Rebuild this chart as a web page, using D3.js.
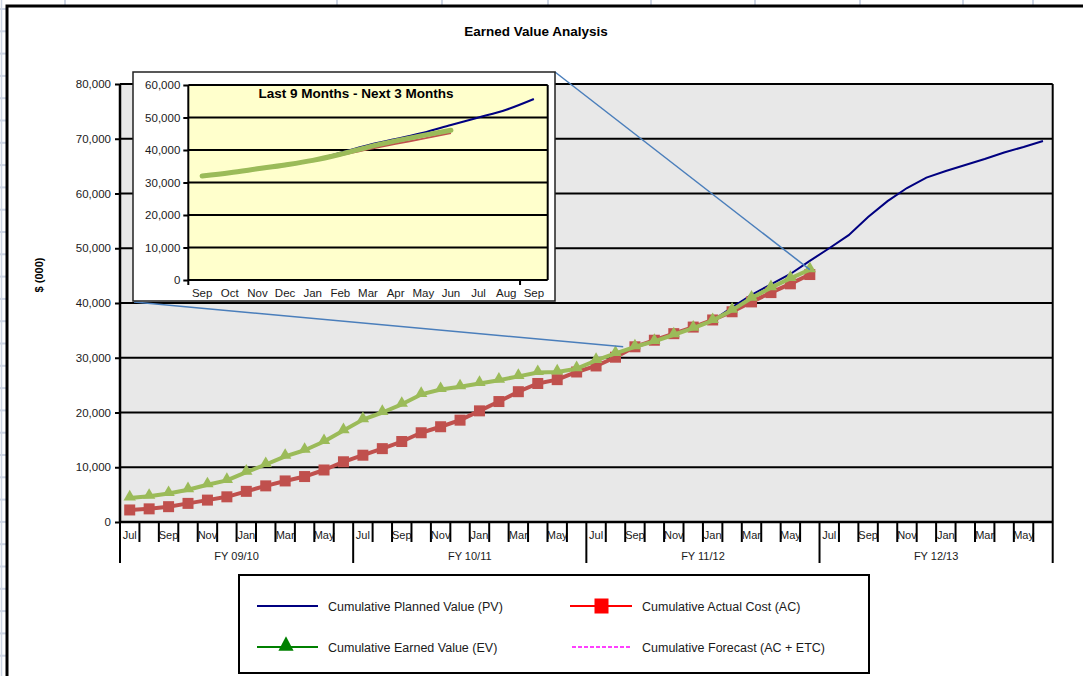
<!DOCTYPE html>
<html><head><meta charset="utf-8">
<script src="https://cdn.jsdelivr.net/npm/d3@7"></script>
<style>body{margin:0;background:#fff}svg{display:block;font-family:Arial,"Liberation Sans",sans-serif}</style>
</head><body><svg id="c" width="1083" height="676"></svg>
<script>
// ---------------- data ----------------
const monthNames = ["Jul","Aug","Sep","Oct","Nov","Dec","Jan","Feb","Mar","Apr","May","Jun"];
const fiscalYears = ["FY 09/10","FY 10/11","FY 11/12","FY 12/13"];
const plannedValue = [4400,4700,5200,5900,6800,7600,9100,10500,12000,13100,14700,16700,
  18700,20000,21500,23300,24200,24700,25300,25900,26600,27300,27400,28000,
  29500,30800,32000,33000,34200,35400,36800,39200,41500,43400,45300,47700,
  50000,52400,55700,58600,61000,62900,64100,65200,66300,67500,68500,69600];
const actualCost = [2200,2400,2800,3400,4000,4600,5600,6600,7500,8300,9500,11000,
  12200,13400,14700,16300,17400,18600,20300,22000,23800,25300,26000,27400,
  28500,30100,32000,33200,34400,35600,36900,38400,40200,41900,43500,45200];
const earnedValue = [4400,4700,5200,5900,6800,7600,9100,10500,12000,13100,14700,16700,
  18700,20000,21500,23300,24200,24700,25300,25900,26600,27300,27400,28000,
  29500,30800,32000,33000,34200,35400,36800,38700,40900,42800,44500,46100];
const insetMonths = ["Sep","Oct","Nov","Dec","Jan","Feb","Mar","Apr","May","Jun","Jul","Aug","Sep"];
const insetStartIndex = 26; // Sep (FY 11/12)
const mainYTicks = [0,10000,20000,30000,40000,50000,60000,70000,80000];
const insetYTicks = [0,10000,20000,30000,40000,50000,60000];
const legendItems = ["Cumulative Planned Value (PV)","Cumulative Actual Cost (AC)","Cumulative Earned Value (EV)","Cumulative Forecast (AC + ETC)"];
const categories = fiscalYears.flatMap(fy => monthNames.map(m => fy + " " + m));

// ---------------- drawing ----------------
const svg = d3.select("#c");
const FONT = 'Arial, "Liberation Sans", sans-serif';
svg.append("rect").attr("width",1083).attr("height",676).attr("fill","#fff");

// spreadsheet grid remnants
const gridCol = "#cdd5e4";
[65,337,442,548,651,755,860,963,1033].forEach(gx => svg.append("line").attr("x1",gx).attr("x2",gx).attr("y1",0).attr("y2",5).attr("stroke",gridCol).attr("stroke-width",2));
for (let gy = 9; gy < 676; gy += 22.3) svg.append("line").attr("x1",0).attr("x2",6).attr("y1",gy).attr("y2",gy).attr("stroke",gridCol).attr("stroke-width",2);
svg.append("line").attr("x1",1.5).attr("x2",1.5).attr("y1",0).attr("y2",676).attr("stroke",gridCol).attr("stroke-width",1.5);
// chart frame
svg.append("path").attr("d","M7,680V6H1090").attr("fill","none").attr("stroke","#000").attr("stroke-width",3);

// title
svg.append("text").attr("x",536).attr("y",36).attr("text-anchor","middle").attr("font-size",13.5).attr("font-weight","bold").attr("fill","#000").text("Earned Value Analysis");

// main scales
const x = d3.scaleBand().domain(d3.range(categories.length)).range([120,1052.7]).padding(0);
const bw = x.bandwidth();
const cx = i => x(i) + bw/2;
const y = d3.scaleLinear().domain([0,80000]).range([522,84]);
const [x0,x1] = x.range();

svg.append("rect").attr("x",x0).attr("y",y(80000)).attr("width",x1-x0).attr("height",y(0)-y(80000)).attr("fill","#e8e8e8");
mainYTicks.filter(v=>v>0).forEach(v => svg.append("line").attr("x1",x0).attr("x2",x1).attr("y1",y(v)).attr("y2",y(v)).attr("stroke","#000").attr("stroke-width",2));
svg.append("line").attr("x1",x1).attr("x2",x1).attr("y1",y(80000)).attr("y2",y(0)).attr("stroke","#000").attr("stroke-width",2);

// y axis
const yAxis = svg.append("g").attr("transform",`translate(${x0},0)`)
  .call(d3.axisLeft(y).tickValues(mainYTicks).tickSize(5).tickPadding(4).tickFormat(d3.format(",")));
yAxis.select(".domain").remove();
yAxis.selectAll("line").attr("stroke","#000").attr("stroke-width",2);
yAxis.selectAll("text").attr("font-size",11.5).attr("font-family",FONT).attr("fill","#1a1a1a");

svg.append("text").attr("transform",`translate(43,275) rotate(-90)`).attr("text-anchor","middle")
  .attr("font-size",11).attr("font-weight","bold").attr("fill","#000").text("$ (000)");

// x axis labels
const xg = svg.append("g");
categories.forEach((c,i) => {
  if (i % 2 === 0) xg.append("text").attr("x",cx(i)).attr("y",539).attr("text-anchor","middle").attr("font-size",11).attr("fill","#1a1a1a").text(monthNames[i%12]);
});
fiscalYears.forEach((fy,g) => {
  const a = x(g*12), b = x(g*12+11)+bw;
  xg.append("text").attr("x",(a+b)/2).attr("y",560).attr("text-anchor","middle").attr("font-size",11).attr("fill","#1a1a1a").text(fy);
});
for (let i = 0; i <= categories.length; i++) {
  const px = i < categories.length ? x(i) : x1;
  const len = i % 12 === 0 ? 41 : 20;
  xg.append("line").attr("x1",px).attr("x2",px).attr("y1",y(0)).attr("y2",y(0)+len).attr("stroke","#000").attr("stroke-width",2);
}
svg.append("line").attr("x1",x0).attr("x2",x0).attr("y1",y(80000)).attr("y2",y(0)).attr("stroke","#000").attr("stroke-width",2.5);
svg.append("line").attr("x1",x0).attr("x2",x1).attr("y1",y(0)).attr("y2",y(0)).attr("stroke","#000").attr("stroke-width",2.5);

// series
const line = d3.line().x((d,i)=>cx(i)).y(d=>y(d));
svg.append("path").datum(plannedValue).attr("d",line).attr("fill","none").attr("stroke","#000080").attr("stroke-width",2);
svg.append("path").datum(actualCost).attr("d",line).attr("fill","none").attr("stroke","#c0504d").attr("stroke-width",4).attr("stroke-linejoin","round");
svg.append("g").selectAll("rect").data(actualCost).join("rect")
  .attr("x",(d,i)=>cx(i)-5.5).attr("y",d=>y(d)-5.5).attr("width",11).attr("height",11).attr("fill","#c0504d");
svg.append("path").datum(earnedValue).attr("d",line).attr("fill","none").attr("stroke","#9bbb59").attr("stroke-width",4).attr("stroke-linejoin","round");
const tri = d3.symbol().type(d3.symbolTriangle).size(66);
svg.append("g").selectAll("path").data(earnedValue).join("path")
  .attr("d",tri).attr("transform",(d,i)=>`translate(${cx(i)},${y(d)-1})`).attr("fill","#9bbb59");

// inset geometry
const ib = {x:133, y:72, w:422, h:229};
// connectors
const lastIdx = earnedValue.length - 1;
svg.append("line").attr("x1",ib.x+ib.w).attr("y1",ib.y).attr("x2",cx(lastIdx)).attr("y2",y(earnedValue[lastIdx])).attr("stroke","#4a7ebb").attr("stroke-width",1.5);
svg.append("line").attr("x1",ib.x+1).attr("y1",ib.y+ib.h+1).attr("x2",x(insetStartIndex)-2).attr("y2",y(earnedValue[insetStartIndex])).attr("stroke","#4a7ebb").attr("stroke-width",1.5);

// inset
svg.append("rect").attr("x",ib.x).attr("y",ib.y).attr("width",ib.w).attr("height",ib.h).attr("fill","#fff").attr("stroke","#222").attr("stroke-width",1.5);
const xi = d3.scaleBand().domain(d3.range(insetMonths.length)).range([188.3,547.7]).padding(0);
const ibw = xi.bandwidth();
const cxi = i => xi(i) + ibw/2;
const yi = d3.scaleLinear().domain([0,60000]).range([280,85]);
const [xi0,xi1] = xi.range();
svg.append("rect").attr("x",xi0).attr("y",yi(60000)).attr("width",xi1-xi0).attr("height",yi(0)-yi(60000)).attr("fill","#ffffcc");
insetYTicks.filter(v=>v>0).forEach(v => svg.append("line").attr("x1",xi0).attr("x2",xi1).attr("y1",yi(v)).attr("y2",yi(v)).attr("stroke","#000").attr("stroke-width",2));
svg.append("line").attr("x1",xi1).attr("x2",xi1).attr("y1",yi(60000)).attr("y2",yi(0)).attr("stroke","#000").attr("stroke-width",2);
const yiAxis = svg.append("g").attr("transform",`translate(${xi0},0)`)
  .call(d3.axisLeft(yi).tickValues(insetYTicks).tickSize(5).tickPadding(3).tickFormat(d3.format(",")));
yiAxis.select(".domain").remove();
yiAxis.selectAll("line").attr("stroke","#000").attr("stroke-width",2);
yiAxis.selectAll("text").attr("font-size",11.5).attr("font-family",FONT).attr("fill","#1a1a1a");
insetMonths.forEach((m,i) => svg.append("text").attr("x",cxi(i)).attr("y",296.5).attr("text-anchor","middle").attr("font-size",11.5).attr("fill","#1a1a1a").text(m));
[0,12].forEach(i => svg.append("line").attr("x1",xi(i)).attr("x2",xi(i)).attr("y1",yi(0)).attr("y2",yi(0)+5).attr("stroke","#000").attr("stroke-width",2));
svg.append("line").attr("x1",xi0).attr("x2",xi0).attr("y1",yi(60000)).attr("y2",yi(0)).attr("stroke","#000").attr("stroke-width",2);
svg.append("line").attr("x1",xi0).attr("x2",xi1).attr("y1",yi(0)).attr("y2",yi(0)).attr("stroke","#000").attr("stroke-width",2);
svg.append("text").attr("x",356).attr("y",97.5).attr("text-anchor","middle").attr("font-size",13.5).attr("font-weight","bold").attr("fill","#000").text("Last 9 Months - Next 3 Months");
const lineI = d3.line().x((d,i)=>cxi(i)).y(d=>yi(d)).curve(d3.curveMonotoneX);
const sl = arr => arr.slice(insetStartIndex, insetStartIndex + insetMonths.length);
svg.append("path").datum(sl(plannedValue)).attr("d",lineI).attr("fill","none").attr("stroke","#000080").attr("stroke-width",2);
svg.append("path").datum(sl(actualCost)).attr("d",lineI).attr("fill","none").attr("stroke","#c0504d").attr("stroke-width",2);
svg.append("path").datum(sl(earnedValue)).attr("d",lineI).attr("fill","none").attr("stroke","#9bbb59").attr("stroke-width",5).attr("stroke-linecap","round");

// legend
const lg = svg.append("g");
lg.append("rect").attr("x",239).attr("y",575).attr("width",630).attr("height",98).attr("fill","#fff").attr("stroke","#000").attr("stroke-width",2);
const rows = [606,647], colLine = [257,570], colText = [328,642];
const pos = [[0,0],[1,0],[0,1],[1,1]];
legendItems.forEach((t,k) => {
  const [c,r] = pos[k];
  lg.append("text").attr("x",colText[c]).attr("y",rows[r]+4.5).attr("font-size",12.5).attr("fill","#1a1a1a").text(t);
});
lg.append("line").attr("x1",colLine[0]).attr("x2",colLine[0]+61).attr("y1",rows[0]).attr("y2",rows[0]).attr("stroke","#000080").attr("stroke-width",2);
lg.append("line").attr("x1",colLine[1]).attr("x2",colLine[1]+62).attr("y1",rows[0]).attr("y2",rows[0]).attr("stroke","#ff0000").attr("stroke-width",2);
lg.append("rect").attr("x",colLine[1]+24.5).attr("y",rows[0]-7.5).attr("width",14).attr("height",15).attr("fill","#ff0000");
lg.append("line").attr("x1",colLine[0]).attr("x2",colLine[0]+61).attr("y1",rows[1]).attr("y2",rows[1]).attr("stroke","#008000").attr("stroke-width",2);
lg.append("path").attr("d",d3.symbol().type(d3.symbolTriangle).size(100)).attr("transform",`translate(${colLine[0]+29},${rows[1]-1}) scale(1,1.1)`).attr("fill","#008000");
lg.append("line").attr("x1",colLine[1]+2).attr("x2",colLine[1]+62).attr("y1",rows[1]).attr("y2",rows[1]).attr("stroke","#ff00ff").attr("stroke-width",1.5).attr("stroke-dasharray","4,2");
</script></body></html>
